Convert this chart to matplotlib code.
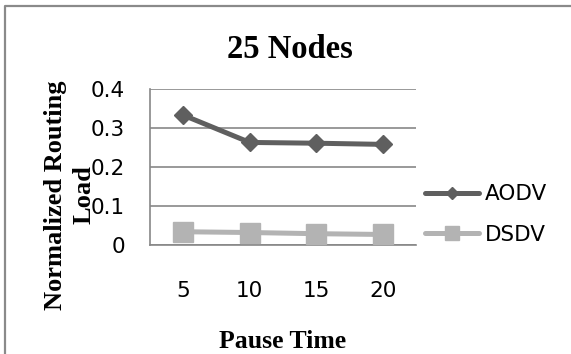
import matplotlib
matplotlib.use("Agg")
import matplotlib.pyplot as plt
from matplotlib.lines import Line2D

# pause time categories and normalized routing load per protocol
pause_times = ["5", "10", "15", "20"]
aodv = [0.333, 0.263, 0.261, 0.258]
dsdv = [0.034, 0.032, 0.029, 0.027]
y_ticks = [0, 0.1, 0.2, 0.3, 0.4]
y_labels = ["0", "0.1", "0.2", "0.3", "0.4"]

W, H = 571, 354
fig = plt.figure(figsize=(W / 100, H / 100), dpi=100)
ax = fig.add_axes([150 / W, 1 - 245 / H, 266 / W, 156 / H])

grid_c = "#878787"
tick_font = "DejaVu Sans"
serif = "Liberation Serif"
tick_size = 15.5

x = range(len(pause_times))
ax.plot(x, aodv, color="#5f5f5f", lw=3.6, marker="D", ms=8.7,
        label="AODV", zorder=3, solid_capstyle="round")
ax.plot(x, dsdv, color="#b3b3b3", lw=3.6, marker="s", ms=14,
        label="DSDV", zorder=3, solid_capstyle="round")

ax.set_xlim(-0.5, len(pause_times) - 0.5)
ax.set_ylim(0, 0.4)
ax.set_xticks(list(x))
ax.set_xticklabels(pause_times, family=tick_font, fontsize=tick_size)
ax.set_yticks(y_ticks)
ax.set_yticklabels(y_labels, family=tick_font, fontsize=tick_size)
ax.tick_params(axis="x", length=0, pad=26)
ax.tick_params(axis="y", length=0, pad=18)

ax.grid(axis="y", color=grid_c, lw=1.2, zorder=0)
ax.set_axisbelow(True)
for s in ["top", "right"]:
    ax.spines[s].set_visible(False)
for s in ["left", "bottom"]:
    ax.spines[s].set_color(grid_c)
    ax.spines[s].set_linewidth(1.2)

fig.text(290 / W, 1 - 58 / H, "25 Nodes", ha="center", va="baseline",
         family=serif, weight="bold", fontsize=23.5)
fig.text(283 / W, 1 - 348 / H, "Pause Time", ha="center", va="baseline",
         family=serif, weight="bold", fontsize=18.5)
fig.text(70 / W, 1 - 195 / H, "Normalized Routing\nLoad", ha="center",
         va="center", rotation=90, multialignment="center", linespacing=1.3,
         family=serif, weight="bold", fontsize=19)

leg = fig.legend(loc="center left", bbox_to_anchor=(425 / W, 1 - 214.5 / H),
                 frameon=False, borderpad=0, borderaxespad=0,
                 handlelength=2.5, handletextpad=0.3, labelspacing=0.95,
                 markerscale=0.75, prop={"family": tick_font, "size": tick_size})

# outer chart border (top and left edges fall inside the image)
fig.add_artist(Line2D([5 / W, 5 / W, 1.0], [0.0, 1 - 6 / H, 1 - 6 / H],
                      transform=fig.transFigure, color="#8a8a8a", lw=1.6))

fig.savefig("out.png", dpi=100)
